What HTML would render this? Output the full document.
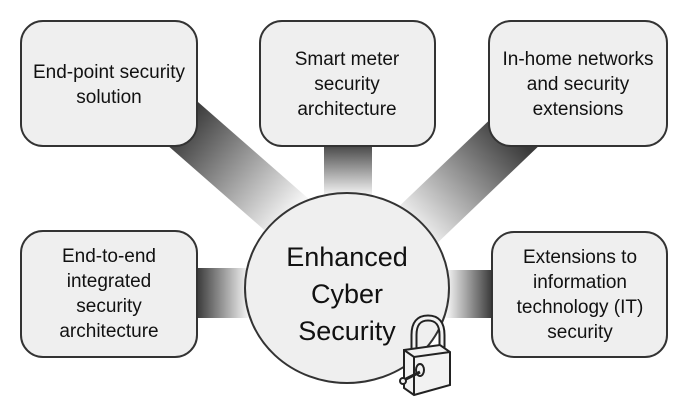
<!DOCTYPE html>
<html><head><style>
html,body{margin:0;padding:0;background:#fff;width:685px;height:415px;overflow:hidden}
.t{font-family:"Liberation Sans",sans-serif;font-size:19px;fill:#111;text-anchor:middle}
.c{font-family:"Liberation Sans",sans-serif;font-size:27px;fill:#111;text-anchor:middle}
</style></head><body>
<svg width="685" height="415" viewBox="0 0 685 415" xmlns="http://www.w3.org/2000/svg">
<defs>
<linearGradient id="gtl" gradientUnits="userSpaceOnUse" x1="180" y1="125" x2="290" y2="215"><stop offset="0" stop-color="#3a3a3a"/><stop offset="1" stop-color="#f4f4f4"/></linearGradient>
<linearGradient id="gtr" gradientUnits="userSpaceOnUse" x1="510" y1="130" x2="410" y2="225"><stop offset="0" stop-color="#3a3a3a"/><stop offset="1" stop-color="#f4f4f4"/></linearGradient>
<linearGradient id="gtc" gradientUnits="userSpaceOnUse" x1="0" y1="146" x2="0" y2="195"><stop offset="0" stop-color="#4a4a4a"/><stop offset="1" stop-color="#f4f4f4"/></linearGradient>
<linearGradient id="gl" gradientUnits="userSpaceOnUse" x1="197" y1="0" x2="248" y2="0"><stop offset="0" stop-color="#3a3a3a"/><stop offset="1" stop-color="#f4f4f4"/></linearGradient>
<linearGradient id="gr" gradientUnits="userSpaceOnUse" x1="492" y1="0" x2="447" y2="0"><stop offset="0" stop-color="#3a3a3a"/><stop offset="1" stop-color="#f4f4f4"/></linearGradient>
</defs>
<polygon points="150,130 190,95 310,200 270,235" fill="url(#gtl)"/>
<polygon points="500,110 545,140 430,250 390,215" fill="url(#gtr)"/>
<rect x="324" y="140" width="48" height="60" fill="url(#gtc)"/>
<rect x="190" y="268" width="60" height="50" fill="url(#gl)"/>
<rect x="445" y="270" width="52" height="48" fill="url(#gr)"/>
<g fill="#efefef" stroke="#333" stroke-width="2">
<rect x="21" y="21" width="176" height="125" rx="22"/>
<rect x="260" y="21" width="175" height="125" rx="22"/>
<rect x="489" y="21" width="178" height="125" rx="22"/>
<rect x="21" y="231" width="176" height="126" rx="22"/>
<rect x="492" y="232" width="175" height="125" rx="22"/>
<ellipse cx="347" cy="288" rx="102" ry="95"/>
</g>
<text class="t" x="109" y="78">End-point security</text>
<text class="t" x="109" y="103">solution</text>
<text class="t" x="347" y="65">Smart meter</text>
<text class="t" x="347" y="90">security</text>
<text class="t" x="347" y="115">architecture</text>
<text class="t" x="578" y="65">In-home networks</text>
<text class="t" x="578" y="90">and security</text>
<text class="t" x="578" y="115">extensions</text>
<text class="t" x="109" y="262">End-to-end</text>
<text class="t" x="109" y="287">integrated</text>
<text class="t" x="109" y="312">security</text>
<text class="t" x="109" y="337">architecture</text>
<text class="t" x="580" y="263">Extensions to</text>
<text class="t" x="580" y="288">information</text>
<text class="t" x="580" y="313">technology (IT)</text>
<text class="t" x="580" y="338">security</text>
<text class="c" x="347" y="266">Enhanced</text>
<text class="c" x="347" y="303">Cyber</text>
<text class="c" x="347" y="340">Security</text>
<g stroke="#222" stroke-width="2" fill="#f2f2f2">
<path d="M414,350 L414,335 Q414,318 428,318 Q442,318 442,335 L442,350" fill="none" stroke-width="7"/>
<path d="M414,350 L414,335 Q414,318 428,318 Q442,318 442,335 L442,350" fill="none" stroke="#f2f2f2" stroke-width="3"/>
<polygon points="404,350 440,345 450,352 450,385 414,395 404,388"/>
<polyline points="404,350 414,357 450,352" fill="none"/>
<line x1="414" y1="357" x2="414" y2="395"/>
<ellipse cx="420" cy="370" rx="4" ry="6"/>
<line x1="420" y1="372" x2="404" y2="380" stroke-width="3"/>
<circle cx="403" cy="381" r="3"/>
</g>
</svg>
</body></html>
